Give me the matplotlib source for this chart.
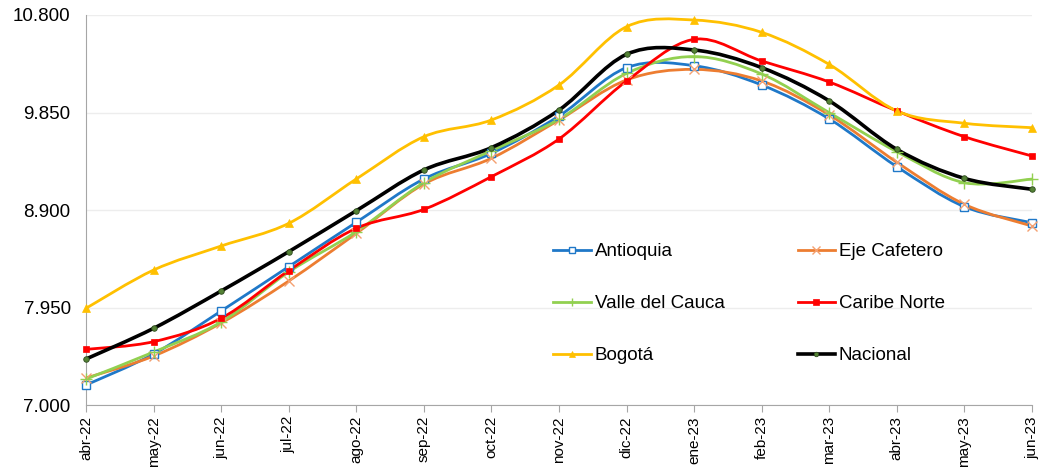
import numpy as np
import matplotlib
matplotlib.use("Agg")
import matplotlib.pyplot as plt
from matplotlib.path import Path
from matplotlib.patches import PathPatch
from matplotlib.lines import Line2D

plt.rcParams['font.family'] = ['Liberation Sans', 'DejaVu Sans']

# Meses (eje x)
meses = ['abr-22', 'may-22', 'jun-22', 'jul-22', 'ago-22', 'sep-22', 'oct-22',
         'nov-22', 'dic-22', 'ene-23', 'feb-23', 'mar-23', 'abr-23', 'may-23', 'jun-23']

# Series por región
antioquia = [7195, 7497, 7916, 8348, 8780, 9202, 9452, 9816, 10287, 10306,
             10118, 9787, 9322, 8932, 8776]
eje_cafetero = [7263, 7477, 7799, 8208, 8672, 9153, 9404, 9777, 10167, 10270,
                10157, 9826, 9365, 8955, 8744]
valle_cauca = [7253, 7516, 7809, 8296, 8689, 9166, 9478, 9784, 10231, 10395,
               10225, 9848, 9468, 9166, 9201]
caribe_norte = [7542, 7617, 7845, 8309, 8722, 8906, 9225, 9592, 10157, 10563,
                10352, 10147, 9865, 9614, 9426]
bogota = [7942, 8315, 8549, 8770, 9202, 9614, 9777, 10118, 10686, 10751,
          10631, 10318, 9865, 9745, 9702]
nacional = [7448, 7747, 8111, 8494, 8893, 9290, 9508, 9874, 10417, 10459,
            10287, 9963, 9491, 9208, 9102]

yticks = [7000, 7950, 8900, 9850, 10800]


def smooth_path(x, y):
    # curva Bezier tipo Excel (Catmull-Rom) a traves de los puntos
    pts = np.column_stack([x, y]).astype(float)
    n = len(pts)
    verts = [pts[0]]
    codes = [Path.MOVETO]
    for i in range(n - 1):
        p0 = pts[i - 1] if i > 0 else pts[i]
        p1 = pts[i]
        p2 = pts[i + 1]
        p3 = pts[i + 2] if i + 2 < n else pts[i + 1]
        c1 = p1 + (p2 - p0) / 6.0
        c2 = p2 - (p3 - p1) / 6.0
        verts += [c1, c2, p2]
        codes += [Path.CURVE4] * 3
    return Path(verts, codes)


series = [
    ('Antioquia', antioquia, dict(color='#1F78C8', lw=2.0, marker='s', ms=6,
                                  mfc='white', mec='#1F78C8', mew=1.0)),
    ('Eje Cafetero', eje_cafetero, dict(color='#ED7D31', lw=2.0, marker='x', ms=7,
                                        mfc='none', mec='#F4A070', mew=1.0)),
    ('Valle del Cauca', valle_cauca, dict(color='#92D050', lw=2.0, marker='+', ms=8,
                                          mfc='none', mec='#92D050', mew=1.0)),
    ('Caribe Norte', caribe_norte, dict(color='#FF0000', lw=2.0, marker='s', ms=5,
                                        mfc='#FF0000', mec='#FF0000', mew=0.5)),
    ('Bogotá', bogota, dict(color='#FFC000', lw=2.0, marker='^', ms=6,
                            mfc='#FFC000', mec='#FFC000', mew=0.5)),
    ('Nacional', nacional, dict(color='black', lw=2.6, marker='o', ms=4,
                                mfc='#548235', mec='#2E4A1E', mew=0.6)),
]

fig = plt.figure(figsize=(10.49, 4.69), dpi=100)
ax = fig.add_axes([86 / 1049, 1 - 405 / 469, (1032 - 86) / 1049, (405 - 15) / 469])

x = np.arange(len(meses))
handles = {}
for name, vals, st in series:
    patch = PathPatch(smooth_path(x, vals), fill=False, edgecolor=st['color'],
                      lw=st['lw'], capstyle='round', joinstyle='round', zorder=3)
    ax.add_patch(patch)
    ax.plot(x, vals, linestyle='none', marker=st['marker'], ms=st['ms'],
            mfc=st['mfc'], mec=st['mec'], mew=st['mew'], zorder=4, clip_on=False)
    handles[name] = Line2D([], [], color=st['color'], lw=st['lw'], marker=st['marker'],
                           ms=st['ms'] * 0.8, mfc=st['mfc'], mec=st['mec'], mew=st['mew'])

ax.set_xlim(0, len(meses) - 1)
ax.set_ylim(7000, 10800)
ax.set_yticks(yticks)
ax.set_yticklabels([f"{v:,.0f}".replace(",", ".") for v in yticks], fontsize=13.5)
ax.set_xticks(x)
ax.set_xticklabels(meses, rotation=90, fontsize=11)
ax.tick_params(axis='y', length=0, pad=11)
ax.tick_params(axis='x', length=5, color='#A6A6A6', pad=3)
ax.yaxis.grid(True, color='#EDEDED', lw=1)
ax.set_axisbelow(True)
for s in ['top', 'right']:
    ax.spines[s].set_visible(False)
ax.spines['left'].set_color('#A6A6A6')
ax.spines['bottom'].set_color('#A6A6A6')

order = ['Antioquia', 'Valle del Cauca', 'Bogotá', 'Eje Cafetero', 'Caribe Norte', 'Nacional']
ax.legend([handles[k] for k in order], order, ncol=2, frameon=False, fontsize=13.5,
          loc='upper left', bbox_to_anchor=(544 / 1049, 1 - 234 / 469),
          bbox_transform=fig.transFigure, labelspacing=1.86, handlelength=2.0,
          handletextpad=0.2, columnspacing=3.9, borderpad=0)

fig.savefig('out.png', dpi=100)
